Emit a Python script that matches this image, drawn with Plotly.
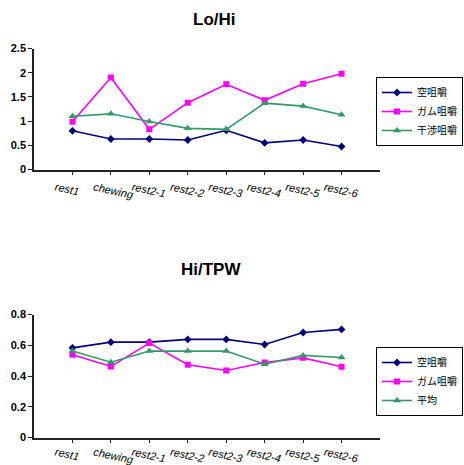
import plotly.graph_objects as go

categories = ["rest1", "chewing", "rest2-1", "rest2-2", "rest2-3", "rest2-4", "rest2-5", "rest2-6"]

# Lo/Hi
lohi_kara = [0.80, 0.63, 0.63, 0.61, 0.81, 0.55, 0.61, 0.475]
lohi_gum = [0.985, 1.90, 0.83, 1.38, 1.76, 1.43, 1.77, 1.98]
lohi_kansho = [1.10, 1.15, 0.99, 0.85, 0.83, 1.37, 1.31, 1.13]

# Hi/TPW
hitpw_kara = [0.583, 0.62, 0.62, 0.638, 0.638, 0.605, 0.683, 0.703]
hitpw_gum = [0.538, 0.462, 0.614, 0.473, 0.436, 0.488, 0.518, 0.46]
hitpw_avg = [0.562, 0.49, 0.562, 0.562, 0.562, 0.477, 0.534, 0.52]

names_top = ["空咀嚼", "ガム咀嚼", "干渉咀嚼"]
names_bot = ["空咀嚼", "ガム咀嚼", "平均"]

NAVY = "#000080"
MAG = "#FF00FF"
GRN = "#339966"
FONT = "Liberation Sans, Arial, Noto Sans CJK JP, sans-serif"
JFONT = "Noto Sans CJK JP, Liberation Sans, sans-serif"

styles = [
    dict(color=NAVY, symbol="diamond", size=6),
    dict(color=MAG, symbol="square", size=6),
    dict(color=GRN, symbol="triangle-up", size=7),
]

fig = go.Figure()

for i, (vals, name) in enumerate(zip([lohi_kara, lohi_gum, lohi_kansho], names_top)):
    st = styles[i]
    fig.add_trace(go.Scatter(
        x=categories, y=vals, name=name, mode="lines+markers",
        line=dict(color=st["color"], width=1.6),
        marker=dict(color=st["color"], symbol=st["symbol"], size=st["size"]),
        xaxis="x", yaxis="y", legend="legend"))

for i, (vals, name) in enumerate(zip([hitpw_kara, hitpw_gum, hitpw_avg], names_bot)):
    st = styles[i]
    fig.add_trace(go.Scatter(
        x=categories, y=vals, name=name, mode="lines+markers",
        line=dict(color=st["color"], width=1.6),
        marker=dict(color=st["color"], symbol=st["symbol"], size=st["size"]),
        xaxis="x2", yaxis="y2", legend="legend2"))

xcommon = dict(
    type="category", range=[-1, 8], showline=True, linecolor="#222", linewidth=1.5,
    ticks="outside", ticklen=4, tickcolor="#222", tickangle=12, automargin=False,
    tickfont=dict(family=FONT, size=11, color="black", style="italic"),
    showgrid=False, zeroline=False, ticklabelshift=-17,
    domain=[34 / 464, 380 / 464],
)
ycommon = dict(
    showline=True, linecolor="#222", linewidth=1.5, ticks="outside", ticklen=4,
    tickcolor="#222", showgrid=False, zeroline=False, automargin=False,
    tickfont=dict(family=FONT, size=11, color="black", weight="bold"),
)

legcommon = dict(xanchor="right", yanchor="top",
                 bordercolor="black", borderwidth=1, bgcolor="white",
                 font=dict(family=JFONT, size=10, color="black"),
                 itemwidth=30, tracegroupgap=0)

fig.update_layout(
    width=464, height=465,
    margin=dict(l=0, r=0, t=0, b=0),
    paper_bgcolor="white", plot_bgcolor="white",
    xaxis=dict(**xcommon, anchor="y", ticklabelstandoff=2),
    xaxis2=dict(**xcommon, anchor="y2", ticklabelstandoff=-1),
    yaxis=dict(**ycommon, range=[0, 2.5], dtick=0.5,
               domain=[(465 - 169.5) / 465, (465 - 48.5) / 465], anchor="x"),
    yaxis2=dict(**ycommon, range=[0, 0.8], dtick=0.2,
                domain=[(465 - 437.5) / 465, (465 - 314.5) / 465], anchor="x2"),
    legend=dict(**legcommon, x=463 / 464, y=(465 - 77) / 465),
    legend2=dict(**legcommon, x=463 / 464, y=(465 - 347) / 465),
    annotations=[
        dict(text="<b>Lo/Hi</b>", x=214 / 464, y=(465 - 20) / 465, xref="paper", yref="paper",
             showarrow=False, font=dict(family=FONT, size=17, color="black"),
             xanchor="center", yanchor="middle"),
        dict(text="<b>Hi/TPW</b>", x=211 / 464, y=(465 - 270) / 465, xref="paper", yref="paper",
             showarrow=False, font=dict(family=FONT, size=17, color="black"),
             xanchor="center", yanchor="middle"),
    ],
)

fig.write_html("out.html")
